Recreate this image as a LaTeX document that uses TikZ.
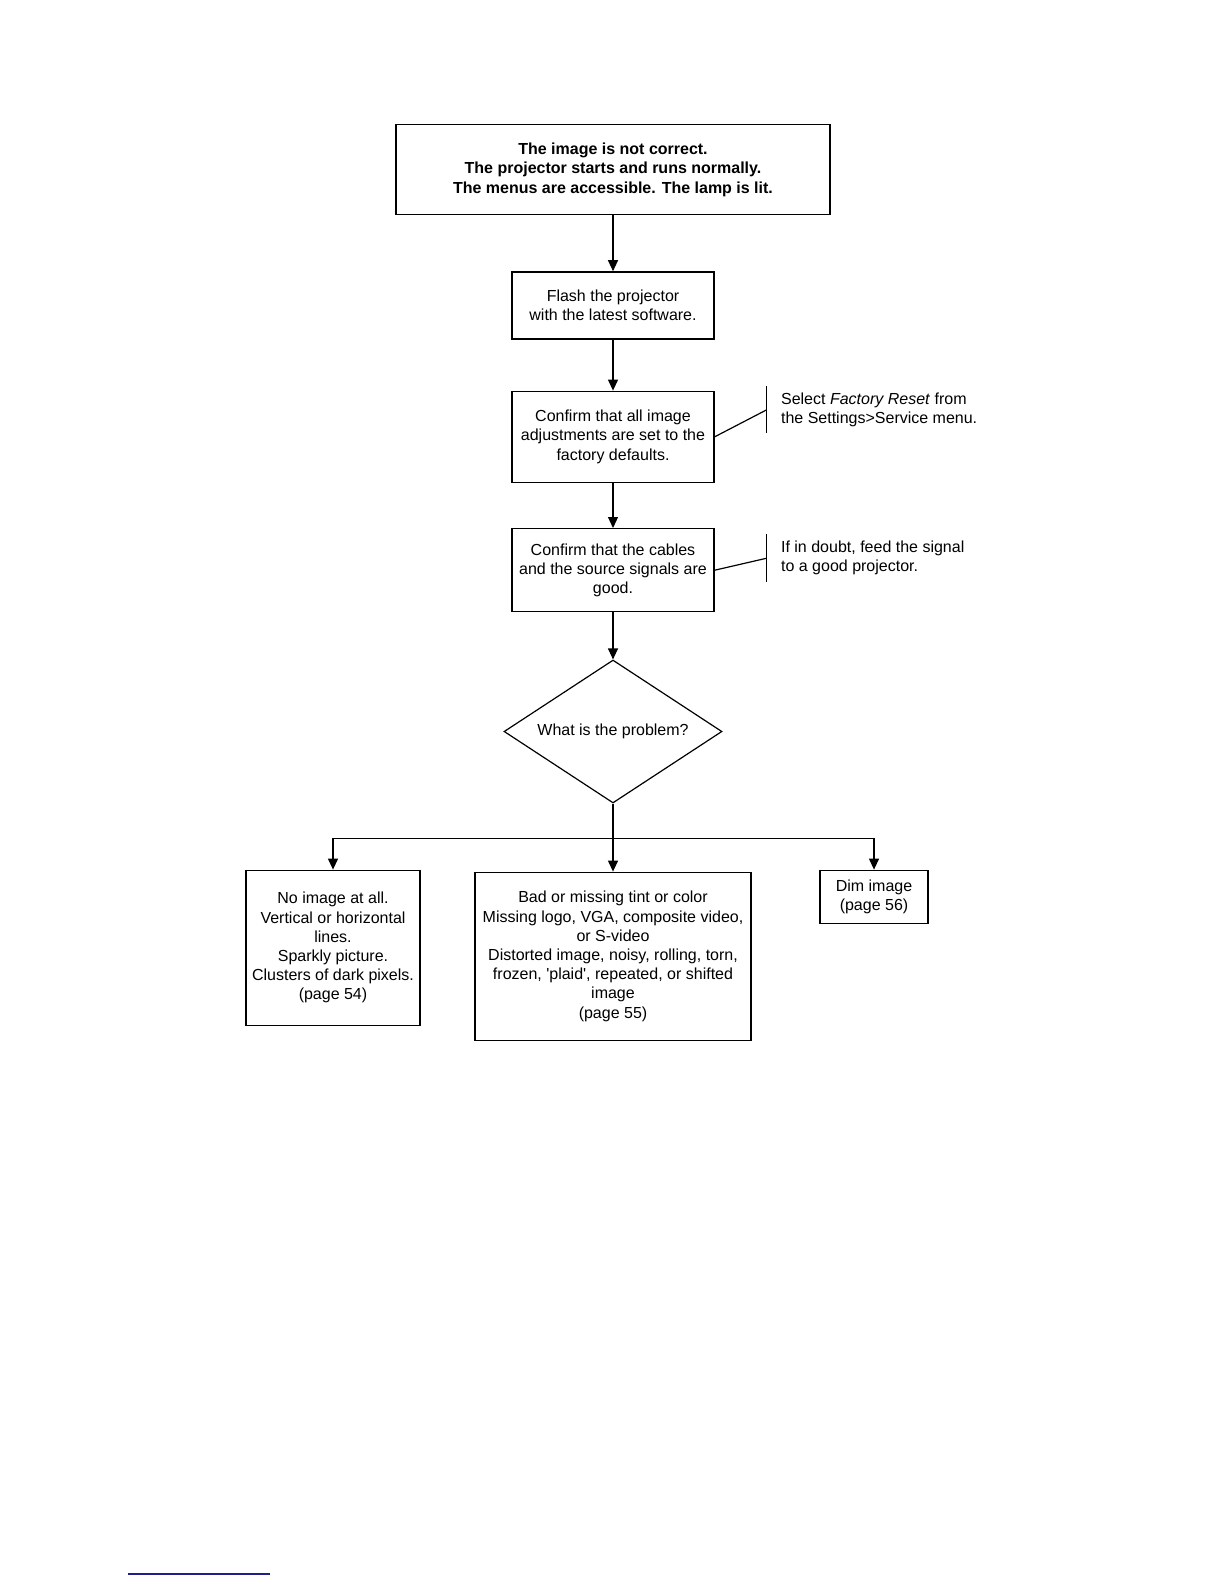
\documentclass[tikz,border=0pt]{standalone}
\usepackage{fontspec}
\setmainfont{Liberation Sans}
\usetikzlibrary{arrows.meta,shapes.geometric,positioning}
\definecolor{footline}{HTML}{1E1E8C}

\begin{document}
\begin{tikzpicture}[
  x=0.5pt, y=-0.5pt,
  every node/.style={font=\fontsize{8}{9.6}\selectfont},
  proc/.style={rectangle, draw, line width=0.7pt, align=center, inner sep=2pt,
               minimum width=101pt},
  decision/.style={diamond, draw, line width=0.6pt, aspect=1.5, inner sep=1pt,
                   minimum width=109pt, minimum height=71.5pt},
  note/.style={align=left, inner xsep=7pt, inner ysep=0pt, minimum height=23pt},
  arr/.style={-{Triangle[length=5.5pt, width=5pt]}, line width=0.6pt},
  link/.style={line width=0.6pt},
]
\useasboundingbox (0,0) rectangle (1224,1584);

%% Main column
\node[proc, minimum width=217pt, minimum height=45pt,
      font=\fontsize{8}{9.8}\selectfont\bfseries] (start) at (613,169.5)
  {The image is not correct.\\
   The projector starts and runs normally.\\
   The menus are accessible. The lamp is lit.};

\node[proc, minimum height=33.5pt, below=28pt of start] (flash)
  {Flash the projector\\with the latest software.};

\node[proc, minimum height=45.5pt, below=25.5pt of flash] (defaults)
  {Confirm that all image\\adjustments are set to the\\factory defaults.};

\node[proc, minimum height=41.5pt, below=22.5pt of defaults] (cables)
  {Confirm that the cables\\and the source signals are\\good.};

\node[decision, below=23.5pt of cables] (problem) {What is the problem?};

%% Side notes
\node[note, right=26pt of defaults, yshift=13.5pt] (resetnote)
  {Select \textit{Factory Reset} from\\the Settings>Service menu.};
\node[note, minimum height=23.5pt, right=26pt of cables, yshift=6pt] (signalnote)
  {If in doubt, feed the signal\\to a good projector.};

%% Outcomes
\coordinate[below=17.5pt of problem] (split);

\node[proc, minimum width=138pt, minimum height=84pt, below=34pt of problem] (colour)
  {Bad or missing tint or color\\
   Missing logo, VGA, composite video,\\
   or S-video\\
   Distorted image, noisy, rolling, torn,\\
   frozen, \textquotesingle plaid\textquotesingle, repeated, or shifted\\
   image\\
   (page 55)};

\node[proc, minimum width=87pt, minimum height=77.5pt, below=33pt of problem,
      xshift=-140pt] (blank)
  {No image at all.\\Vertical or horizontal\\lines.\\Sparkly picture.\\
   Clusters of dark pixels.\\(page 54)};

\node[proc, minimum width=54pt, minimum height=26.5pt, below=33pt of problem,
      xshift=130.5pt] (dim)
  {Dim image\\(page 56)};

%% Arrows
\draw[arr] (start) -- (flash);
\draw[arr] (flash) -- (defaults);
\draw[arr] (defaults) -- (cables);
\draw[arr] (cables) -- (problem);
\draw[arr] (problem) -- (colour);
\draw[link] (problem.south) -- (split);
\draw[arr] (split) -| (blank);
\draw[arr] (split) -| (dim);

%% Note brackets
\draw[link] (resetnote.north west) -- (resetnote.south west);
\draw[link] (defaults.east) -- (resetnote.west);
\draw[link] (signalnote.north west) -- (signalnote.south west);
\draw[link] (cables.east) -- (signalnote.west);

%% Footnote rule
\coordinate (rulestart) at (128,1574);
\coordinate (ruleend) at (270,1574);
\draw[footline, line width=1pt] (rulestart) -- (ruleend);

\end{tikzpicture}
\end{document}
